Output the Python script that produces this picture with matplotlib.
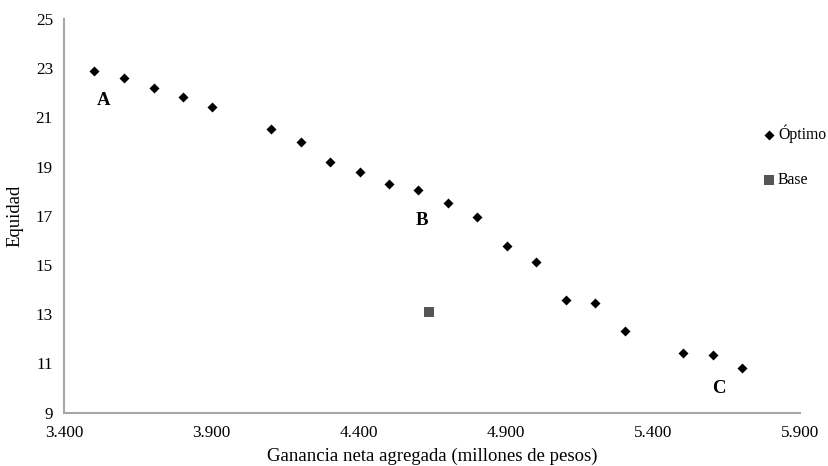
import matplotlib.pyplot as plt
from matplotlib.ticker import FuncFormatter

# Frontera de soluciones óptimas (ganancia en miles, equidad)
ganancia_optimo = [3502, 3604, 3706, 3805, 3903, 4103, 4205, 4303, 4405, 4503, 4602,
                   4704, 4803, 4905, 5004, 5106, 5204, 5306, 5503, 5605, 5703]
equidad_optimo = [22.88, 22.60, 22.19, 21.82, 21.42, 20.52, 19.99, 19.18, 18.77, 18.28, 18.04,
                  17.51, 16.94, 15.76, 15.11, 13.60, 13.44, 12.30, 11.44, 11.36, 10.83]

ganancia_base = [4640]
equidad_base = [13.11]

# Puntos etiquetados
etiquetas = ['A', 'B', 'C']
etiqueta_x = [3535, 4615, 5625]
etiqueta_y = [21.7, 16.8, 10.0]

plt.rcParams['font.family'] = ['Liberation Serif', 'DejaVu Serif']

fig = plt.figure(figsize=(8.29, 4.66), dpi=100)
ax = fig.add_axes([0.0772, 0.1144, 0.8878, 0.8448])

ax.scatter(ganancia_optimo, equidad_optimo, marker='D', s=26, color='black',
           linewidths=0, label='Óptimo')
ax.scatter(ganancia_base, equidad_base, marker='s', s=42, color='#555555',
           linewidths=0, label='Base')

for t, x, y in zip(etiquetas, etiqueta_x, etiqueta_y):
    ax.text(x, y, t, fontsize=13.5, fontweight='bold', ha='center', va='center')

ax.set_xlim(3400, 5900)
ax.set_ylim(9, 25)
ax.set_xticks([3400, 3900, 4400, 4900, 5400, 5900])
ax.set_yticks([9, 11, 13, 15, 17, 19, 21, 23, 25])
ax.xaxis.set_major_formatter(FuncFormatter(lambda v, p: f'{v/1000:.3f}'))
ax.tick_params(length=0, labelsize=12.3)
ax.tick_params(axis='x', pad=9)
ax.tick_params(axis='y', pad=8)

for s in ['top', 'right']:
    ax.spines[s].set_visible(False)
for s in ['left', 'bottom']:
    ax.spines[s].set_color('#a6a6a6')
    ax.spines[s].set_linewidth(1.5)

ax.set_xlabel('Ganancia neta agregada (millones de pesos)', fontsize=13.5, labelpad=5)
ax.set_ylabel('Equidad', fontsize=13.5, labelpad=9)

fig.legend(loc='upper left', bbox_to_anchor=(0.909, 0.75), frameon=False,
           fontsize=11.3, labelspacing=1.85, handletextpad=0.05, handlelength=1.0,
           borderpad=0)

fig.savefig('out.png', dpi=100)
